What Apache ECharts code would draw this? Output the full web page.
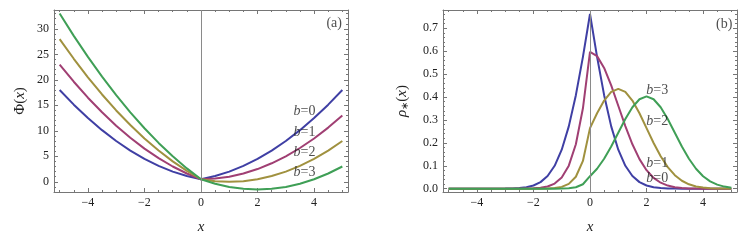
<!DOCTYPE html>
<html>
<head>
<meta charset="utf-8">
<script src="https://cdn.jsdelivr.net/npm/echarts@6/dist/echarts.min.js"></script>
<style>html,body{margin:0;padding:0;background:#fff}#c{width:747px;height:245px}</style>
</head>
<body>
<div id="c"></div>
<script>
// ---- Panel (a): Phi(x) ----
const xL = [-5,-4.5,-4,-3.5,-3,-2.5,-2,-1.5,-1,-0.5,0,0.5,1,1.5,2,2.5,3,3.5,4,4.5,5];
const phiB0 = [18,15.13,12.5,10.13,8,6.13,4.5,3.13,2,1.13,0.5,1.13,2,3.13,4.5,6.13,8,10.13,12.5,15.13,18];
const phiB1 = [23,19.63,16.5,13.63,11,8.63,6.5,4.63,3,1.63,0.5,0.63,1,1.63,2.5,3.63,5,6.63,8.5,10.63,13];
const phiB2 = [28,24.13,20.5,17.13,14,11.13,8.5,6.13,4,2.13,0.5,0.13,0,0.13,0.5,1.13,2,3.13,4.5,6.13,8];
const phiB3 = [33,28.63,24.5,20.63,17,13.63,10.5,7.63,5,2.63,0.5,-0.38,-1,-1.38,-1.5,-1.38,-1,-0.38,0.5,1.63,3];

// ---- Panel (b): rho*(x) ----
const xR = [-5,-4.5,-4,-3.5,-3,-2.75,-2.5,-2.25,-2,-1.75,-1.5,-1.25,-1,-0.75,-0.5,-0.25,0,0.25,0.5,0.75,1,1.25,1.5,1.75,2,2.25,2.5,2.75,3,3.25,3.5,3.75,4,4.25,4.5,4.75,5];
const rhoB0 = [0,0,0,0.0001,0.0004,0.0011,0.0027,0.0064,0.0140,0.0287,0.0552,0.1000,0.1702,0.2720,0.4082,0.5756,0.7626,0.5756,0.4082,0.2720,0.1702,0.1000,0.0552,0.0287,0.0140,0.0064,0.0027,0.0011,0.0004,0.0001,0.0001,0,0,0,0,0,0];
const rhoB1 = [0,0,0,0,0,0.0001,0.0002,0.0005,0.0015,0.0039,0.0097,0.0224,0.0490,0.1006,0.1939,0.3510,0.5971,0.5787,0.5269,0.4507,0.3622,0.2734,0.1939,0.1292,0.0808,0.0475,0.0262,0.0136,0.0066,0.0030,0.0013,0.0005,0.0002,0.0001,0,0,0];
const rhoB2 = [0,0,0,0,0,0,0,0,0.0001,0.0003,0.0010,0.0028,0.0080,0.0210,0.0521,0.1211,0.2644,0.3291,0.3847,0.4226,0.4360,0.4226,0.3847,0.3291,0.2644,0.1996,0.1415,0.0943,0.0590,0.0347,0.0192,0.0099,0.0048,0.0022,0.0010,0.0004,0.0001];
const rhoB3 = [0,0,0,0,0,0,0,0,0,0,0,0.0002,0.0006,0.0020,0.0065,0.0194,0.0545,0.0871,0.1308,0.1845,0.2444,0.3042,0.3556,0.3905,0.4030,0.3905,0.3556,0.3042,0.2444,0.1845,0.1308,0.0871,0.0545,0.0321,0.0177,0.0092,0.0045];

const curveNames = ['b=0','b=1','b=2','b=3'];
const colors = ['#3f3fa4','#a03f73','#a0913f','#3f9f56'];

// label anchor positions (data coordinates)
const labA = [[3.66,13.9,'b=0'],[3.66,9.8,'b=1'],[3.66,5.8,'b=2'],[3.66,1.9,'b=3']];
const labB = [[2.38,0.431,'b=3'],[2.38,0.292,'b=2'],[2.38,0.109,'b=1'],[2.38,0.044,'b=0']];
const panelTags = ['(a)','(b)'];
const tagPos = [[4.71,31.0],[4.75,0.719]];

const FONT = 'Liberation Serif, Times New Roman, serif';
const frameColor = '#767676';
const minus = v => String(v).replace('-', '\u2212');

function zipXY(xs, ys){ return xs.map((x,i)=>[x, ys[i]]); }

function xAxisPair(grid){
  const base = {
    type:'value', gridIndex:grid, min:-5.2, max:5.2, splitNumber:5, minInterval:2, maxInterval:2,
    splitLine:{show:false},
    axisLine:{show:true, onZero:false, lineStyle:{color:frameColor, width:1}},
    axisTick:{show:true, inside:true, length:4, lineStyle:{color:frameColor}},
    minorTick:{show:true, splitNumber:4, length:2, lineStyle:{color:frameColor}},
  };
  return [
    Object.assign({}, base, {position:'bottom',
      axisLabel:{show:true, margin:5, color:'#222', fontFamily:FONT, fontSize:12, showMinLabel:false, showMaxLabel:false, formatter:minus},
      name:'{i|x}', nameLocation:'middle', nameGap:28,
      nameTextStyle:{rich:{i:{fontFamily:FONT, fontStyle:'italic', fontSize:15, color:'#222'}}}
    }),
    Object.assign({}, base, {position:'top', axisLabel:{show:false}})
  ];
}

function yAxisPair(grid, min, max, split, interval, minorSplit, fmt, name, gap){
  const base = {
    type:'value', gridIndex:grid, min:min, max:max, splitNumber:split, minInterval:interval, maxInterval:interval,
    splitLine:{show:false},
    axisLine:{show:true, onZero:false, lineStyle:{color:frameColor, width:1}},
    axisTick:{show:true, inside:true, length:4, lineStyle:{color:frameColor}},
    minorTick:{show:true, splitNumber:minorSplit, length:2, lineStyle:{color:frameColor}},
  };
  return [
    Object.assign({}, base, {position:'left',
      axisLabel:{show:true, margin:5, color:'#222', fontFamily:FONT, fontSize:12, showMinLabel:false, showMaxLabel:false, formatter:fmt},
      name:name, nameLocation:'middle', nameGap:gap, nameRotate:90,
      nameTextStyle:{rich:{
        n:{fontFamily:FONT, fontSize:15, color:'#222'},
        i:{fontFamily:FONT, fontStyle:'italic', fontSize:15, color:'#222'},
        s:{fontFamily:FONT, fontSize:10, color:'#222', padding:[6,0,0,0]}
      }}
    }),
    Object.assign({}, base, {position:'right', axisLabel:{show:false}})
  ];
}

const xAxes = [...xAxisPair(0), ...xAxisPair(1)];
const yAxes = [
  ...yAxisPair(0, -2.0, 33.7, 7, 5, 5, v => minus(v), '{n|\u03A6(}{i|x}{n|)}', 26),
  ...yAxisPair(1, -0.0144, 0.78, 8, 0.1, 5, v => v.toFixed(1), '{i|\u03C1}{s|\u2217}{n|(}{i|x}{n|)}', 33)
];

const labelRich = {
  i:{fontFamily:FONT, fontStyle:'italic', fontSize:14, color:'#222'},
  n:{fontFamily:FONT, fontSize:14, color:'#222'}
};
function labelFmt(p){
  const t = p.data[2];
  if (t.charAt(0)==='b') return '{i|b}{n|' + t.slice(1) + '}';
  return '{n|' + t + '}';
}

const series = [];
const phiSets = [phiB0, phiB1, phiB2, phiB3];
const rhoSets = [rhoB0, rhoB1, rhoB2, rhoB3];
const zeroLine = {
  silent:true, symbol:['none','none'], label:{show:false},
  lineStyle:{color:'#8a8a8a', width:1, type:'solid'},
  data:[{xAxis:0}], animation:false
};
phiSets.forEach((ys,k)=>{
  const s = {type:'line', name:curveNames[k], xAxisIndex:0, yAxisIndex:0, data:zipXY(xL, ys),
    showSymbol:false, symbol:'none', lineStyle:{color:colors[k], width:2}, itemStyle:{color:colors[k]}, z:3};
  if (k===0) s.markLine = zeroLine;
  series.push(s);
});
rhoSets.forEach((ys,k)=>{
  const s = {type:'line', name:curveNames[k], xAxisIndex:2, yAxisIndex:2, data:zipXY(xR, ys),
    showSymbol:false, symbol:'none', lineStyle:{color:colors[k], width:2}, itemStyle:{color:colors[k]}, z:3};
  if (k===0) s.markLine = zeroLine;
  series.push(s);
});
// text annotations
series.push({type:'scatter', xAxisIndex:0, yAxisIndex:0, symbolSize:0, silent:true, z:5,
  data: labA.concat([[tagPos[0][0], tagPos[0][1], panelTags[0]]]),
  label:{show:true, position:'inside', formatter:labelFmt, rich:labelRich}});
series.push({type:'scatter', xAxisIndex:2, yAxisIndex:2, symbolSize:0, silent:true, z:5,
  data: labB.concat([[tagPos[1][0], tagPos[1][1], panelTags[1]]]),
  label:{show:true, position:'inside', formatter:labelFmt, rich:labelRich}});

const chart = echarts.init(document.getElementById('c'), null, {renderer:'canvas'});
chart.setOption({
  animation:false,
  backgroundColor:'#fff',
  grid:[
    {left:54, top:10, width:294, height:182},
    {left:443, top:10, width:294, height:182}
  ],
  xAxis:xAxes,
  yAxis:yAxes,
  series:series
});
</script>
</body>
</html>
